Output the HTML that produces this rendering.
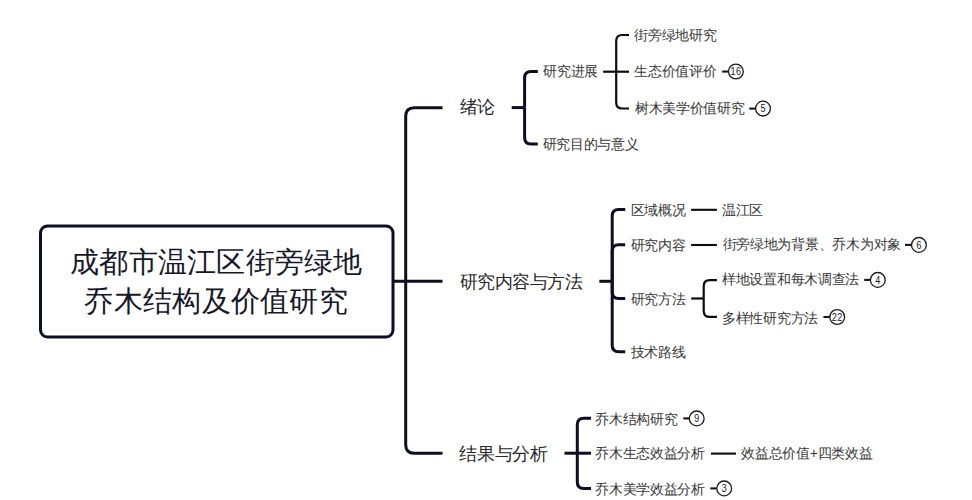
<!DOCTYPE html>
<html><head><meta charset="utf-8"><style>
html,body{margin:0;padding:0;background:#fff;width:972px;height:500px;overflow:hidden}
body{position:relative;font-family:"Liberation Sans",sans-serif}
.t{position:absolute;white-space:nowrap;color:#383838}
svg{position:absolute;left:0;top:0}
</style></head><body>

<svg width="972" height="500" viewBox="0 0 972 500">
<rect x="40.5" y="226" width="352.5" height="111" rx="7" ry="7" fill="none" stroke="#0e0e22" stroke-width="3"/>
<path d="M394,281.3H442.5" fill="none" stroke="#0e0e22" stroke-width="3"/>
<path d="M442.5,107.7H414.2Q405.7,107.7 405.7,116.2V444.7Q405.7,453.2 414.2,453.2H442.5" fill="none" stroke="#0e0e22" stroke-width="3"/>
<path d="M511.7,107.6H524.6" fill="none" stroke="#0e0e22" stroke-width="3"/>
<path d="M524.6,107.6V78.1Q524.6,71.6 531.1,71.6H537.8" fill="none" stroke="#0e0e22" stroke-width="3"/>
<path d="M524.6,107.6V137.5Q524.6,144 531.1,144H537.8" fill="none" stroke="#0e0e22" stroke-width="3"/>
<path d="M603.1,71.7H616.2" fill="none" stroke="#0c0c0c" stroke-width="2.2"/>
<path d="M616.2,71.7V41.0Q616.2,35.0 622.2,35.0H629.0" fill="none" stroke="#0c0c0c" stroke-width="2.2"/>
<path d="M616.2,71.7H629.0" fill="none" stroke="#0c0c0c" stroke-width="2.2"/>
<path d="M616.2,71.7V102.5Q616.2,108.5 622.2,108.5H629.0" fill="none" stroke="#0c0c0c" stroke-width="2.2"/>
<path d="M599.3,281.3H612.2" fill="none" stroke="#0e0e22" stroke-width="3"/>
<path d="M612.2,281.3V216.1Q612.2,209.6 618.7,209.6H625.2" fill="none" stroke="#0e0e22" stroke-width="3"/>
<path d="M612.2,281.3V251.3Q612.2,244.8 618.7,244.8H625.2" fill="none" stroke="#0e0e22" stroke-width="3"/>
<path d="M612.2,281.3V292.0Q612.2,298.5 618.7,298.5H625.2" fill="none" stroke="#0e0e22" stroke-width="3"/>
<path d="M612.2,281.3V345.3Q612.2,351.8 618.7,351.8H625.2" fill="none" stroke="#0e0e22" stroke-width="3"/>
<path d="M691.2,298.5H703.7" fill="none" stroke="#0c0c0c" stroke-width="2.2"/>
<path d="M703.7,298.5V286.1Q703.7,280.1 709.7,280.1H716.9" fill="none" stroke="#0c0c0c" stroke-width="2.2"/>
<path d="M703.7,298.5V310.9Q703.7,316.9 709.7,316.9H716.9" fill="none" stroke="#0c0c0c" stroke-width="2.2"/>
<path d="M564.5,453.2H577.3" fill="none" stroke="#0e0e22" stroke-width="3"/>
<path d="M577.3,453.2V424.7Q577.3,418.2 583.8,418.2H591" fill="none" stroke="#0e0e22" stroke-width="3"/>
<path d="M577.3,453.2H591" fill="none" stroke="#0e0e22" stroke-width="3"/>
<path d="M577.3,453.2V481.9Q577.3,488.4 583.8,488.4H591" fill="none" stroke="#0e0e22" stroke-width="3"/>
<path d="M691.1,209.8H716.9" fill="none" stroke="#0c0c0c" stroke-width="2.1"/>
<path d="M691.1,245H716.9" fill="none" stroke="#0c0c0c" stroke-width="2.1"/>
<path d="M711,453.6H736" fill="none" stroke="#0c0c0c" stroke-width="2.1"/>
<path d="M722.2,71.55H728.5" stroke="#151515" stroke-width="2.1"/>
<circle cx="735.9" cy="71.55" r="7.4" fill="#fff" stroke="#1a1a1a" stroke-width="1.3"/>
<text transform="translate(735.9,75.34) scale(0.86,1)" x="0" y="0" text-anchor="middle" font-family="Liberation Sans" font-size="10.6" fill="#222" stroke="#222" stroke-width="0" letter-spacing="0.4">16</text>
<path d="M749.3,108.6H755.6" stroke="#151515" stroke-width="2.1"/>
<circle cx="763.0" cy="108.6" r="7.4" fill="#fff" stroke="#1a1a1a" stroke-width="1.3"/>
<text transform="translate(763.0,112.39) scale(0.85,1)" x="0" y="0" text-anchor="middle" font-family="Liberation Sans" font-size="10.6" fill="#222" stroke="#222" stroke-width="0" letter-spacing="0">5</text>
<path d="M905.0,244.9H911.5" stroke="#151515" stroke-width="2.1"/>
<circle cx="918.9" cy="244.9" r="7.4" fill="#fff" stroke="#1a1a1a" stroke-width="1.3"/>
<text transform="translate(918.9,248.69) scale(0.85,1)" x="0" y="0" text-anchor="middle" font-family="Liberation Sans" font-size="10.6" fill="#222" stroke="#222" stroke-width="0" letter-spacing="0">6</text>
<path d="M864.2,279.9H870.4" stroke="#151515" stroke-width="2.1"/>
<circle cx="877.8" cy="279.9" r="7.4" fill="#fff" stroke="#1a1a1a" stroke-width="1.3"/>
<text transform="translate(877.8,283.69) scale(0.85,1)" x="0" y="0" text-anchor="middle" font-family="Liberation Sans" font-size="10.6" fill="#222" stroke="#222" stroke-width="0" letter-spacing="0">4</text>
<path d="M823.4,317.0H829.8000000000001" stroke="#151515" stroke-width="2.1"/>
<circle cx="837.2" cy="317.0" r="7.4" fill="#fff" stroke="#1a1a1a" stroke-width="1.3"/>
<text transform="translate(837.2,320.79) scale(0.86,1)" x="0" y="0" text-anchor="middle" font-family="Liberation Sans" font-size="10.6" fill="#222" stroke="#222" stroke-width="0" letter-spacing="0.4">22</text>
<path d="M683.3,418.4H689.3000000000001" stroke="#151515" stroke-width="2.1"/>
<circle cx="696.7" cy="418.4" r="7.4" fill="#fff" stroke="#1a1a1a" stroke-width="1.3"/>
<text transform="translate(696.7,422.19) scale(0.85,1)" x="0" y="0" text-anchor="middle" font-family="Liberation Sans" font-size="10.6" fill="#222" stroke="#222" stroke-width="0" letter-spacing="0">9</text>
<path d="M710.3,488.4H716.8000000000001" stroke="#151515" stroke-width="2.1"/>
<circle cx="724.2" cy="488.4" r="7.4" fill="#fff" stroke="#1a1a1a" stroke-width="1.3"/>
<text transform="translate(724.2,492.19) scale(0.85,1)" x="0" y="0" text-anchor="middle" font-family="Liberation Sans" font-size="10.6" fill="#222" stroke="#222" stroke-width="0" letter-spacing="0">3</text>
</svg>
<div class="t" style="left:459.57px;top:98.20px;font-size:18px;line-height:18px;letter-spacing:-0.45px;color:#282828">绪论</div>
<div class="t" style="left:543.26px;top:63.50px;font-size:14px;line-height:14px;letter-spacing:-0.28px;color:#383838">研究进展</div>
<div class="t" style="left:542.51px;top:136.50px;font-size:14px;line-height:14px;letter-spacing:-0.28px;color:#383838">研究目的与意义</div>
<div class="t" style="left:634.31px;top:27.70px;font-size:14px;line-height:14px;letter-spacing:-0.28px;color:#383838">街旁绿地研究</div>
<div class="t" style="left:634.31px;top:63.50px;font-size:14px;line-height:14px;letter-spacing:-0.28px;color:#383838">生态价值评价</div>
<div class="t" style="left:634.81px;top:101.40px;font-size:14px;line-height:14px;letter-spacing:-0.28px;color:#383838">树木美学价值研究</div>
<div class="t" style="left:459.57px;top:273.20px;font-size:18px;line-height:18px;letter-spacing:-0.45px;color:#282828">研究内容与方法</div>
<div class="t" style="left:630.76px;top:202.50px;font-size:14px;line-height:14px;letter-spacing:-0.28px;color:#383838">区域概况</div>
<div class="t" style="left:722.01px;top:202.50px;font-size:14px;line-height:14px;letter-spacing:-0.28px;color:#383838">温江区</div>
<div class="t" style="left:630.76px;top:237.50px;font-size:14px;line-height:14px;letter-spacing:-0.28px;color:#383838">研究内容</div>
<div class="t" style="left:722.61px;top:237.30px;font-size:14px;line-height:14px;letter-spacing:-0.28px;color:#383838">街旁绿地为背景、乔木为对象</div>
<div class="t" style="left:630.76px;top:291.50px;font-size:14px;line-height:14px;letter-spacing:-0.28px;color:#383838">研究方法</div>
<div class="t" style="left:722.01px;top:272.40px;font-size:14px;line-height:14px;letter-spacing:-0.28px;color:#383838">样地设置和每木调查法</div>
<div class="t" style="left:722.01px;top:310.70px;font-size:14px;line-height:14px;letter-spacing:-0.28px;color:#383838">多样性研究方法</div>
<div class="t" style="left:630.51px;top:345.40px;font-size:14px;line-height:14px;letter-spacing:-0.28px;color:#383838">技术路线</div>
<div class="t" style="left:459.47px;top:444.80px;font-size:18px;line-height:18px;letter-spacing:-0.45px;color:#282828">结果与分析</div>
<div class="t" style="left:595.11px;top:411.70px;font-size:14px;line-height:14px;letter-spacing:-0.28px;color:#383838">乔木结构研究</div>
<div class="t" style="left:595.11px;top:446.00px;font-size:14px;line-height:14px;letter-spacing:-0.28px;color:#383838">乔木生态效益分析</div>
<div class="t" style="left:741.11px;top:446.25px;font-size:14px;line-height:14px;letter-spacing:-0.28px;color:#383838">效益总价值+四类效益</div>
<div class="t" style="left:595.11px;top:481.60px;font-size:14px;line-height:14px;letter-spacing:-0.28px;color:#383838">乔木美学效益分析</div>
<div class="t" style="left:69.98px;top:248.10px;font-size:29px;line-height:29px;letter-spacing:0.27px;color:#17172a">成都市温江区街旁绿地</div>
<div class="t" style="left:84.48px;top:286.50px;font-size:29px;line-height:29px;letter-spacing:0.27px;color:#17172a">乔木结构及价值研究</div>
</body></html>
